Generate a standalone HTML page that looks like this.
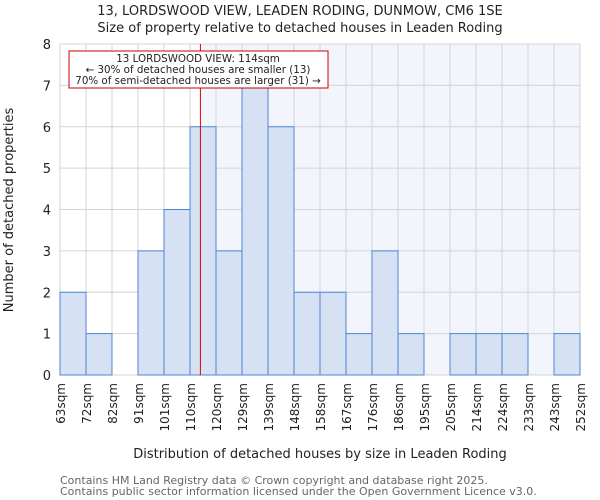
<!DOCTYPE html>
<html><head><meta charset="utf-8"><style>
html,body{margin:0;padding:0;background:#fff;width:600px;height:500px;overflow:hidden}
text{font-family:"DejaVu Sans","Liberation Sans",sans-serif}
</style></head><body>
<svg id="chart" width="600" height="500" xmlns="http://www.w3.org/2000/svg">
<text x="300" y="15" text-anchor="middle" font-size="13" fill="#222">13, LORDSWOOD VIEW, LEADEN RODING, DUNMOW, CM6 1SE</text>
<text x="300" y="32" text-anchor="middle" font-size="13" fill="#222">Size of property relative to detached houses in Leaden Roding</text>
<g id="plot"></g>
<text x="320" y="458" text-anchor="middle" font-size="13" fill="#222">Distribution of detached houses by size in Leaden Roding</text>
<text transform="translate(13,210) rotate(-90)" text-anchor="middle" font-size="13" fill="#222">Number of detached properties</text>
<text x="60" y="484" font-size="11" fill="#666">Contains HM Land Registry data © Crown copyright and database right 2025.</text>
<text x="60" y="495" font-size="11" fill="#666">Contains public sector information licensed under the Open Government Licence v3.0.</text>
</svg>
<script>
const tickLabels=["63sqm","72sqm","82sqm","91sqm","101sqm","110sqm","120sqm","129sqm","139sqm","148sqm","158sqm","167sqm","176sqm","186sqm","195sqm","205sqm","214sqm","224sqm","233sqm","243sqm","252sqm"];
const binEdges=[63,72,82,91,101,110,120,129,139,148,158,167,176,186,195,205,214,224,233,243,252];
const counts=[2,1,0,3,4,6,3,7,6,2,2,1,3,1,0,1,1,1,0,1];
const yTicks=[0,1,2,3,4,5,6,7,8];
const propertySize=114;
const NS="http://www.w3.org/2000/svg";
const L=60,R=580,T=44,B=375,YMAX=8;
const nb=counts.length;
function xi(i){return L+(R-L)*i/nb;}
function xv(v){let i=0;while(i<nb-1&&v>binEdges[i+1])i++;return xi(i)+(v-binEdges[i])/(binEdges[i+1]-binEdges[i])*(xi(1)-xi(0));}
function y(v){return B-(B-T)*v/YMAX;}
const g=document.getElementById('plot');
function el(t,a){const e=document.createElementNS(NS,t);for(const k in a)e.setAttribute(k,a[k]);g.appendChild(e);return e;}
const px=xv(propertySize);
const shade=el('rect',{x:px,y:T,width:R-px,height:B-T,fill:'#f2f5fc'});


for(let i=0;i<=nb;i++){const l=el('line',{x1:xi(i),x2:xi(i),y1:T,y2:B,stroke:'#d4d4d4','stroke-width':1});

}
yTicks.forEach(t=>{const l=el('line',{x1:L,x2:R,y1:y(t),y2:y(t),stroke:'#d4d4d4','stroke-width':1});


const tx=el('text',{x:L-9,y:y(t)+5,'text-anchor':'end','font-size':13,fill:'#222'});tx.textContent=t;

});
counts.forEach((c,i)=>{if(c<=0)return;const r=el('rect',{x:xi(i),y:y(c),width:xi(i+1)-xi(i),height:B-y(c),fill:'#d6e1f3',stroke:'#4f86d4','stroke-width':1});

});
tickLabels.forEach((lab,i)=>{const x=xi(i);const tx=el('text',{transform:`translate(${x+5},${B+8}) rotate(-90)`,'text-anchor':'end','font-size':12,fill:'#222'});tx.textContent=lab;

});
const pl=el('line',{x1:px,x2:px,y1:T,y2:B,stroke:'#d00','stroke-width':1});


const box=el('rect',{x:69,y:51,width:259,height:37,fill:'#fff',stroke:'#c00','stroke-width':1});


["13 LORDSWOOD VIEW: 114sqm","← 30% of detached houses are smaller (13)","70% of semi-detached houses are larger (31) →"].forEach((s,k)=>{const tx=el('text',{x:198,y:62+k*11,'text-anchor':'middle','font-size':10.3,fill:'#222'});tx.textContent=s;

});
</script>
</body></html>
